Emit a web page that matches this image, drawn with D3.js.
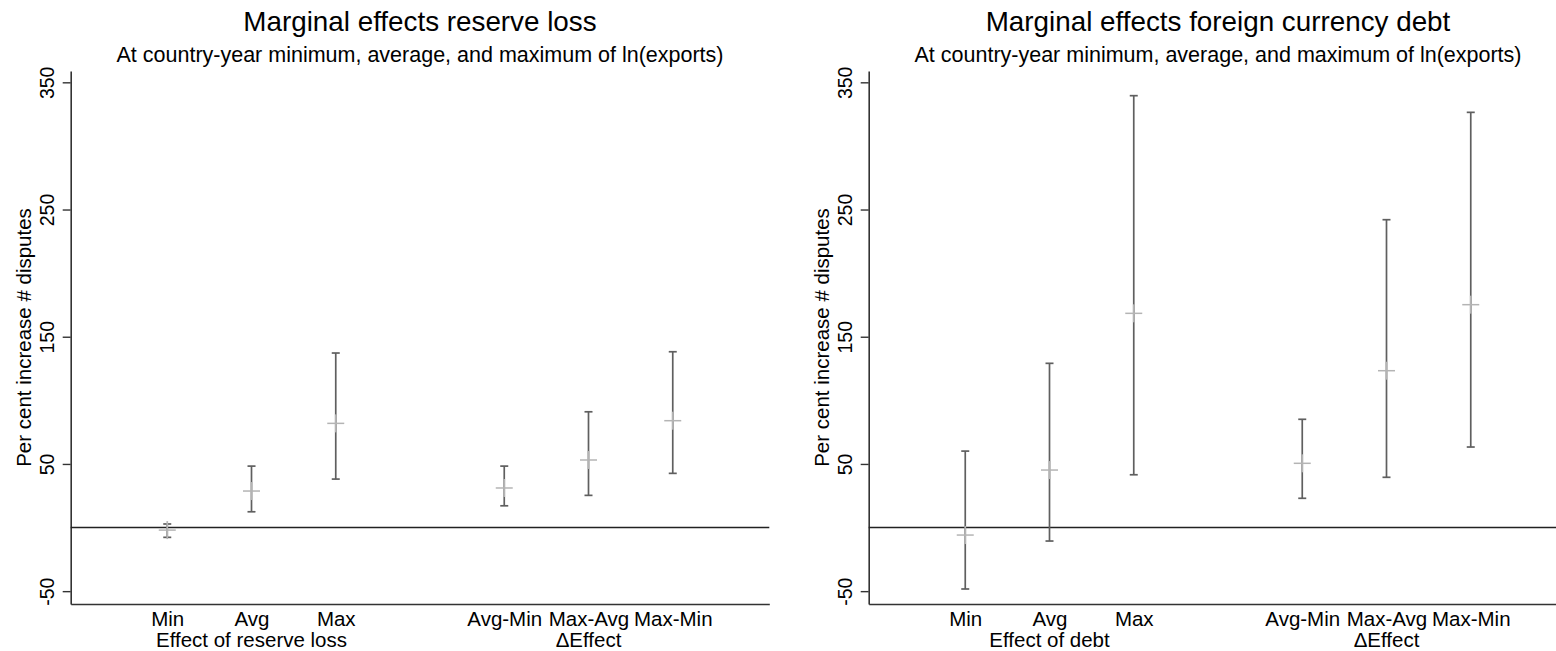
<!DOCTYPE html>
<html>
<head>
<meta charset="utf-8">
<script src="https://cdn.jsdelivr.net/npm/d3@7"></script>
<style>
    body { margin: 0; background: #ffffff; }
    svg { display: block; font-family: "Liberation Sans", Arial, sans-serif; }
</style>
</head>
<body>
<div id="chart"></div>
<script>

// categories on the x axis (slot 4 is left empty between the two groups)
const categories = ["Min", "Avg", "Max", "Avg-Min", "Max-Avg", "Max-Min"];
const positions = [1, 2, 3, 5, 6, 7];
const yTicks = [-50, 50, 150, 250, 350];

// left panel: reserve loss
const reserveEst = [-2.0, 28.7, 81.9, 31.1, 53.1, 84.0];
const reserveLo = [-7.7, 12.4, 38.1, 17.1, 25.3, 42.6];
const reserveHi = [2.8, 48.3, 137.2, 48.3, 91.0, 138.2];
const reserveGroups = ["Effect of reserve loss", "\u0394Effect"];

// right panel: foreign currency debt
const debtEst = [-5.9, 45.2, 168.4, 50.5, 123.3, 175.2];
const debtLo = [-48.3, -10.6, 41.5, 23.0, 39.5, 63.3];
const debtHi = [60.1, 129.1, 339.5, 85.1, 242.0, 326.4];
const debtGroups = ["Effect of debt", "\u0394Effect"];

const groupPositions = [2, 6];

const svgWidth = 1556;
const svgHeight = 651;

const renderPanel = function(svg, left, title, subtitle, est, lo, hi, groups) {

    const plotTop = 71;
    const plotBottom = 604;
    const plotWidth = 698.6;

    const xScale = d3.scaleLinear()
                     .domain([-0.146, 8.146])
                     .range([left, left + plotWidth]);

    const yScale = d3.scaleLinear()
                     .domain([-60.1, 358.9])
                     .range([plotBottom, plotTop]);

    const g = svg.append("g");
    const centerX = left + plotWidth / 2;

    // titles
    g.append("text")
     .attr("x", centerX)
     .attr("y", 31)
     .attr("text-anchor", "middle")
     .attr("font-size", "27.8px")
     .attr("fill", "#000")
     .text(title);

    g.append("text")
     .attr("x", centerX)
     .attr("y", 62)
     .attr("text-anchor", "middle")
     .attr("font-size", "21.5px")
     .attr("fill", "#000")
     .text(subtitle);

    // y axis
    const yAxis = d3.axisLeft(yScale)
                    .tickValues(yTicks)
                    .tickSize(8)
                    .tickSizeOuter(0)
                    .tickFormat(function(d) {
                        return String(d);
                    });

    const yAxisGroup = g.append("g")
                        .attr("transform", `translate(${left}, 0)`)
                        .call(yAxis);

    yAxisGroup.select(".domain").attr("stroke", "#333").attr("stroke-width", 1.6);
    yAxisGroup.selectAll(".tick line").attr("stroke", "#333").attr("stroke-width", 1.4);
    yAxisGroup.selectAll(".tick text")
              .attr("x", 0)
              .attr("dy", 0)
              .attr("transform", "translate(-17, 0) rotate(-90)")
              .attr("text-anchor", "middle")
              .attr("font-size", "19.5px")
              .attr("font-family", "Liberation Sans, Arial, sans-serif")
              .attr("fill", "#000");

    g.append("text")
     .attr("transform", `translate(${left - 39.5}, ${(plotTop + plotBottom) / 2}) rotate(-90)`)
     .attr("text-anchor", "middle")
     .attr("font-size", "20.5px")
     .attr("fill", "#000")
     .text("Per cent increase # disputes");

    // x axis, labels only
    const xAxis = d3.axisBottom(xScale)
                    .tickValues(positions)
                    .tickSize(0)
                    .tickPadding(7)
                    .tickFormat(function(d, i) {
                        return categories[i];
                    });

    const xAxisGroup = g.append("g")
                        .attr("transform", `translate(0, ${plotBottom})`)
                        .call(xAxis);

    xAxisGroup.select(".domain").attr("stroke", "#333").attr("stroke-width", 1.6);
    xAxisGroup.selectAll(".tick text")
              .attr("font-size", "20.5px")
              .attr("font-family", "Liberation Sans, Arial, sans-serif")
              .attr("fill", "#000");

    g.selectAll(".group-label")
     .data(groups)
     .enter()
     .append("text")
     .attr("class", "group-label")
     .attr("x", function(d, i) {
         return xScale(groupPositions[i]);
     })
     .attr("y", 647)
     .attr("text-anchor", "middle")
     .attr("font-size", "20.5px")
     .attr("fill", "#000")
     .text(function(d) {
         return d;
     });

    // zero reference line
    g.append("line")
     .attr("x1", xScale.range()[0])
     .attr("x2", xScale.range()[1])
     .attr("y1", yScale(0))
     .attr("y2", yScale(0))
     .attr("stroke", "#222")
     .attr("stroke-width", 1.5);

    const rows = positions.map(function(p, i) {
        return {pos: p, est: est[i], lo: lo[i], hi: hi[i]};
    });

    const bars = g.selectAll(".ci")
                  .data(rows)
                  .enter()
                  .append("g")
                  .attr("class", "ci");

    bars.append("line")
        .attr("x1", function(d) { return xScale(d.pos); })
        .attr("x2", function(d) { return xScale(d.pos); })
        .attr("y1", function(d) { return yScale(d.hi); })
        .attr("y2", function(d) { return yScale(d.lo); })
        .attr("stroke", "#5f5f5f")
        .attr("stroke-width", 1.7);

    ["hi", "lo"].forEach(function(key) {
        bars.append("line")
            .attr("x1", function(d) { return xScale(d.pos) - 4; })
            .attr("x2", function(d) { return xScale(d.pos) + 4; })
            .attr("y1", function(d) { return yScale(d[key]); })
            .attr("y2", function(d) { return yScale(d[key]); })
            .attr("stroke", "#5f5f5f")
            .attr("stroke-width", 1.7);
    });

    // point estimate as a light "+" marker
    bars.append("line")
        .attr("x1", function(d) { return xScale(d.pos) - 8.5; })
        .attr("x2", function(d) { return xScale(d.pos) + 8.5; })
        .attr("y1", function(d) { return yScale(d.est); })
        .attr("y2", function(d) { return yScale(d.est); })
        .attr("stroke", "#b4b4b4")
        .attr("stroke-width", 1.5);

    bars.append("line")
        .attr("x1", function(d) { return xScale(d.pos); })
        .attr("x2", function(d) { return xScale(d.pos); })
        .attr("y1", function(d) { return yScale(d.est) - 9; })
        .attr("y2", function(d) { return yScale(d.est) + 9; })
        .attr("stroke", "#b4b4b4")
        .attr("stroke-width", 1.7);
};

const svg = d3.select("#chart")
              .append("svg")
              .attr("width", svgWidth)
              .attr("height", svgHeight);

svg.append("rect")
   .attr("width", svgWidth)
   .attr("height", svgHeight)
   .attr("fill", "#ffffff");

renderPanel(svg, 70.7, "Marginal effects reserve loss",
            "At country-year minimum, average, and maximum of ln(exports)",
            reserveEst, reserveLo, reserveHi, reserveGroups);

renderPanel(svg, 868.7, "Marginal effects foreign currency debt",
            "At country-year minimum, average, and maximum of ln(exports)",
            debtEst, debtLo, debtHi, debtGroups);

</script>
</body>
</html>
